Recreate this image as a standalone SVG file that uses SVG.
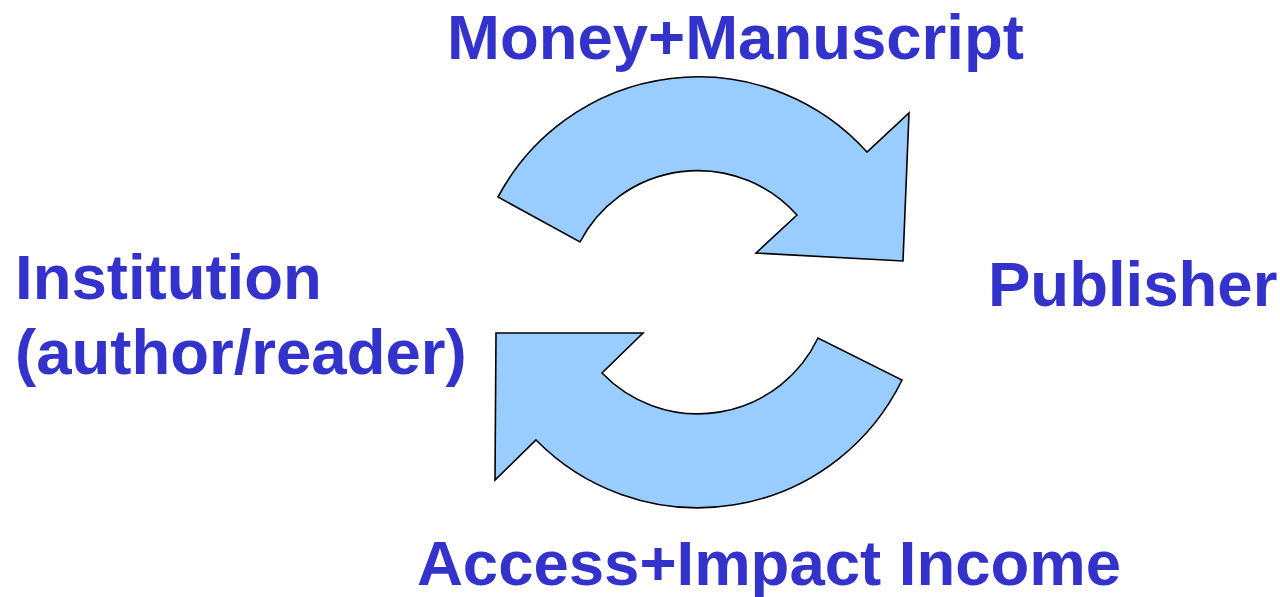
<svg xmlns="http://www.w3.org/2000/svg" width="1280" height="597" viewBox="0 0 1280 597">
<style>
.lbl{font-family:"Liberation Sans",Arial,sans-serif;font-weight:bold;font-size:63.5px;fill:#3333CC}
.arr{fill:#99CCFF;stroke:#000;stroke-width:1.6;stroke-linejoin:miter}
</style>
<rect width="1280" height="597" fill="#fff"/>
<g id="connectors">
<path id="arrow-top" class="arr" d="M 498 197 A 227 227 0 0 1 867 152 L 909 113 L 903 261 L 756 253 L 797 215 A 133 133 0 0 0 580 242 Z"/>
<path id="arrow-bottom" class="arr" d="M 902 380 A 227 227 0 0 1 536 440 L 495 480 L 496 333 L 643 333 L 602 373 A 133 133 0 0 0 818 338 Z"/>
</g>
<g id="node-money"><text class="lbl" x="447" y="59">Money+Manuscript</text></g>
<g id="node-institution"><text class="lbl" x="15" y="299">Institution</text><text class="lbl" x="15" y="374">(author/reader)</text></g>
<g id="node-publisher"><text class="lbl" x="988" y="306">Publisher</text></g>
<g id="node-access"><text class="lbl" x="417" y="585">Access+Impact Income</text></g>
</svg>
